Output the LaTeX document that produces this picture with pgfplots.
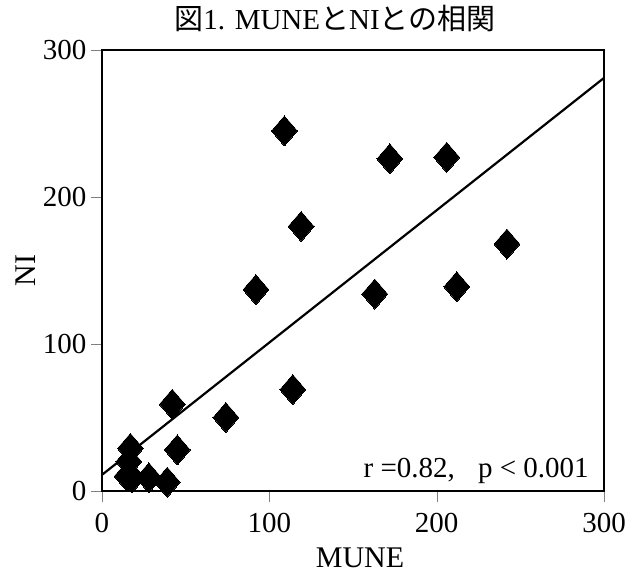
\documentclass[border=0pt]{standalone}
\usepackage{pgfplots}
\pgfplotsset{compat=1.18}
\usepackage{fontspec}
\setmainfont{Liberation Serif}
\newfontfamily\cjk{Noto Sans CJK JP}
\begin{document}
\begin{tikzpicture}
\begin{axis}[
  scale only axis,
  width=502pt, height=441pt,
  xmin=0, xmax=300, ymin=0, ymax=300,
  xtick={0,100,200,300}, ytick={0,100,200,300},
  tick align=outside, xtick pos=bottom, ytick pos=left,
  major tick length=11pt,
  line width=2.4pt,
  /pgf/number format/assume math mode=true,
  tick label style={font=\fontsize{29}{33}\selectfont},
  xticklabel style={yshift=-7pt},
  label style={font=\fontsize{30}{34}\selectfont},
  title style={font=\fontsize{29}{34}\selectfont, at={(axis description cs:0.464,1.058)}, anchor=center},
  title={{\cjk 図}1. MUNE{\cjk と}NI{\cjk との相関}},
  xlabel={MUNE}, ylabel={NI},
  xlabel style={at={(axis description cs:0.514,-0.152)}, anchor=center, inner sep=0pt},
  ylabel style={at={(axis description cs:-0.153,0.5)}, anchor=center},
]
\addplot[black, line width=2.2pt] coordinates {(0,11) (300,281)};
\addplot[only marks, mark=diamond*, mark size=15pt, mark options={xscale=1.15, fill=black, draw=black, line width=0pt}] coordinates {
(109,245) (172,226) (206,227) (119,180) (242,168) (92,137) (163,134) (212,139)
(114,69) (42,59) (74,50) (45,28) (17,29) (16,20) (15,10) (18,9) (28,9) (39,6)
};
\node[anchor=base east, font=\fontsize{29}{33}\selectfont, inner sep=0pt] at (rel axis cs:0.972,0.03) {r =0.82,\hspace{0.8em}p < 0.001};
\end{axis}
\pgfresetboundingbox
\path[use as bounding box] ([xshift=-102pt,yshift=-82pt]current axis.south west) rectangle ([xshift=28pt,yshift=50pt]current axis.north east);
\end{tikzpicture}
\end{document}
